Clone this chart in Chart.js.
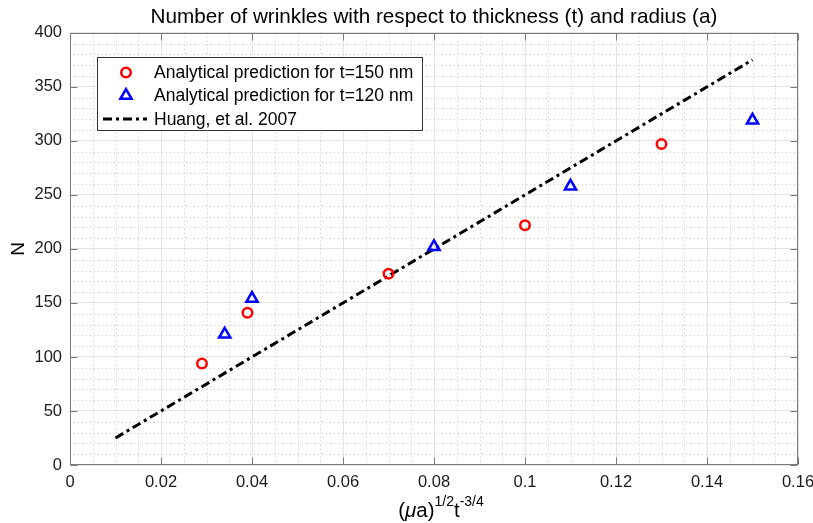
<!DOCTYPE html>
<html>
<head>
<meta charset="utf-8">
<script src="https://cdn.jsdelivr.net/npm/chart.js@4.4.0/dist/chart.umd.min.js"></script>
<style>
  html, body { margin: 0; padding: 0; background: #fff; }
  #wrap { position: relative; width: 813px; height: 523px; }
  #xlabel {
    position: absolute; left: 77px; width: 728px; top: 499px;
    text-align: center; font-family: "Liberation Sans", Arial, sans-serif;
    font-size: 20.5px; line-height: 22px; color: #000;
  }
  #xlabel sup { font-size: 14px; vertical-align: baseline; position: relative; top: -0.8em; }
</style>
</head>
<body>
<div id="wrap">
  <canvas id="chart" width="813" height="523"></canvas>
  <div id="xlabel">(<i>μ</i>a)<sup>1/2</sup>t<sup>-3/4</sup></div>
</div>
<script>
// --- data ---
const xRed = [0.029, 0.039, 0.070, 0.100, 0.130];
const nRed = [94, 141, 177, 222, 297];
const xBlue = [0.034, 0.040, 0.080, 0.110, 0.150];
const nBlue = [121, 154, 202, 258, 319];
const xHuang = [0.01, 0.15];
const nHuang = [25, 375];

const labels = ['Analytical prediction for t=150 nm', 'Analytical prediction for t=120 nm', 'Huang, et al. 2007'];
const xTicks = [0, 0.02, 0.04, 0.06, 0.08, 0.1, 0.12, 0.14, 0.16];
const yTicks = [0, 50, 100, 150, 200, 250, 300, 350, 400];
const xMinorStep = 0.005;
const yMinorStep = 10;

const FONT = '"Liberation Sans", Arial, sans-serif';
const pts = (xs, ys) => xs.map((v, i) => ({ x: v, y: ys[i] }));

// dotted minor grid (MATLAB style)
const minorGrid = {
  id: 'minorGrid',
  beforeDatasetsDraw(chart) {
    const { ctx, chartArea: a, scales: { x, y } } = chart;
    ctx.save();
    ctx.strokeStyle = '#c4c4c4';
    ctx.lineWidth = 1;
    ctx.setLineDash([1, 3]);
    const nx = Math.round((x.max - x.min) / xMinorStep);
    for (let i = 1; i < nx; i++) {
      if (i % 4 === 0) continue;
      const px = Math.round(x.getPixelForValue(x.min + i * xMinorStep)) + 0.5;
      ctx.beginPath(); ctx.moveTo(px, a.top); ctx.lineTo(px, a.bottom); ctx.stroke();
    }
    const ny = Math.round((y.max - y.min) / yMinorStep);
    for (let i = 1; i < ny; i++) {
      if (i % 5 === 0) continue;
      const py = Math.round(y.getPixelForValue(y.min + i * yMinorStep)) + 0.5;
      ctx.beginPath(); ctx.moveTo(a.left, py); ctx.lineTo(a.right, py); ctx.stroke();
    }
    ctx.restore();
  }
};

// axes box with inward ticks
const axesBox = {
  id: 'axesBox',
  afterDatasetsDraw(chart) {
    const { ctx, chartArea: a, scales: { x, y } } = chart;
    const L = Math.round(a.left) + 0.5, R = Math.round(a.right) - 0.5;
    const T = Math.round(a.top) + 0.5, B = Math.round(a.bottom) - 0.5;
    ctx.save();
    ctx.strokeStyle = '#7a7a7a';
    ctx.lineWidth = 1;
    ctx.strokeRect(L, T, R - L, B - T);
    ctx.beginPath();
    xTicks.forEach(v => {
      const px = Math.round(x.getPixelForValue(v)) + 0.5;
      ctx.moveTo(px, B); ctx.lineTo(px, B - 7);
      ctx.moveTo(px, T); ctx.lineTo(px, T + 7);
    });
    yTicks.forEach(v => {
      const py = Math.round(y.getPixelForValue(v)) + 0.5;
      ctx.moveTo(L, py); ctx.lineTo(L + 7, py);
      ctx.moveTo(R, py); ctx.lineTo(R - 7, py);
    });
    ctx.stroke();
    ctx.restore();
  }
};

// legend box inside the axes, upper left
const boxLegend = {
  id: 'boxLegend',
  afterDraw(chart) {
    const ctx = chart.ctx;
    const bx = 97.5, by = 57.5, bw = 325, bh = 73;
    const rows = [72.5, 95.5, 119];
    ctx.save();
    ctx.fillStyle = '#fff';
    ctx.fillRect(bx, by, bw, bh);
    ctx.strokeStyle = '#333';
    ctx.lineWidth = 1;
    ctx.strokeRect(bx, by, bw, bh);
    ctx.lineWidth = 2.5;
    ctx.strokeStyle = '#ff0000';
    ctx.beginPath(); ctx.arc(126, rows[0], 4.75, 0, Math.PI * 2); ctx.stroke();
    ctx.strokeStyle = '#0000ff';
    const r = 6.5;
    ctx.beginPath();
    for (let k = 0; k < 3; k++) {
      const ang = k * 2 * Math.PI / 3;
      const px = 126 + Math.sin(ang) * r, py = rows[1] - Math.cos(ang) * r;
      k ? ctx.lineTo(px, py) : ctx.moveTo(px, py);
    }
    ctx.closePath(); ctx.stroke();
    ctx.strokeStyle = '#000';
    ctx.lineWidth = 3;
    ctx.setLineDash([9, 4, 3, 4]);
    ctx.beginPath(); ctx.moveTo(103, rows[2]); ctx.lineTo(147, rows[2]); ctx.stroke();
    ctx.setLineDash([]);
    ctx.fillStyle = '#000';
    ctx.font = '17.5px ' + FONT;
    ctx.textBaseline = 'middle';
    labels.forEach((t, i) => ctx.fillText(t, 154, rows[i] + 1));
    ctx.restore();
  }
};

new Chart(document.getElementById('chart'), {
  type: 'scatter',
  data: {
    datasets: [
      {
        label: labels[0], data: pts(xRed, nRed),
        pointStyle: 'circle', pointRadius: 4.75, pointBorderWidth: 2.5,
        borderColor: '#ff0000', backgroundColor: 'rgba(0,0,0,0)'
      },
      {
        label: labels[1], data: pts(xBlue, nBlue),
        pointStyle: 'triangle', pointRadius: 6.5, pointBorderWidth: 2.5,
        borderColor: '#0000ff', backgroundColor: 'rgba(0,0,0,0)'
      },
      {
        type: 'line', label: labels[2], data: pts(xHuang, nHuang),
        borderColor: '#000', borderWidth: 3, borderDash: [9, 4, 3, 4],
        pointRadius: 0, fill: false
      }
    ]
  },
  options: {
    responsive: false,
    animation: false,
    layout: { padding: { left: 0, right: 15, top: 0, bottom: 0 } },
    plugins: {
      legend: { display: false },
      tooltip: { enabled: false },
      title: {
        display: true, fullSize: false,
        text: 'Number of wrinkles with respect to thickness (t) and radius (a)',
        color: '#000', font: { family: FONT, size: 20.7, weight: 'normal' },
        padding: { top: 5, bottom: 3 }
      }
    },
    scales: {
      x: {
        type: 'linear', min: 0, max: 0.16,
        afterBuildTicks: s => { s.ticks = xTicks.map(v => ({ value: v })); },
        afterFit: s => { s.height = 58; s.paddingRight = 0; s.paddingLeft = 0; },
        grid: { color: '#e3e3e3', drawTicks: false },
        border: { display: false },
        ticks: {
          color: '#1a1a1a', padding: 8, maxRotation: 0,
          font: { family: FONT, size: 16.5 },
          callback: v => String(Number(v.toFixed(2)))
        }
      },
      y: {
        min: 0, max: 400,
        afterBuildTicks: s => { s.ticks = yTicks.map(v => ({ value: v })); },
        afterFit: s => { s.width = 70; },
        grid: { color: '#e3e3e3', drawTicks: false },
        border: { display: false },
        title: {
          display: true, text: 'N', color: '#000',
          font: { family: FONT, size: 19 }, padding: { top: 7, bottom: 0 }
        },
        ticks: {
          color: '#1a1a1a', padding: 8,
          font: { family: FONT, size: 16.5 }
        }
      }
    }
  },
  plugins: [minorGrid, axesBox, boxLegend]
});
</script>
</body>
</html>
